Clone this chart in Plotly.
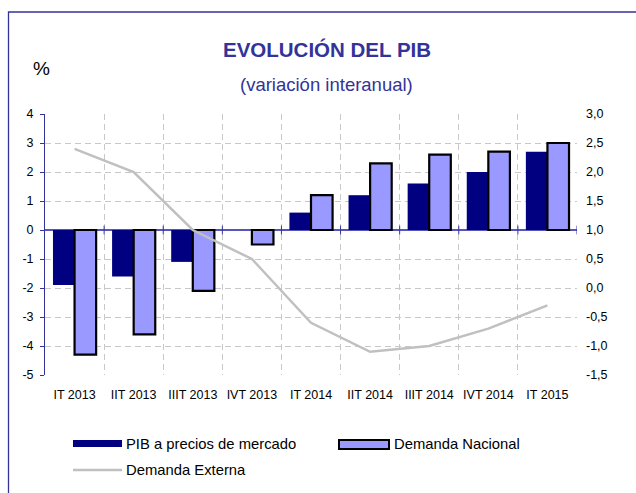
import plotly.graph_objects as go

categories = ["IT 2013", "IIT 2013", "IIIT 2013", "IVT 2013", "IT 2014",
              "IIT 2014", "IIIT 2014", "IVT 2014", "IT 2015"]
pib = [-1.9, -1.6, -1.1, 0.0, 0.6, 1.2, 1.6, 2.0, 2.7]
demanda_nacional = [-4.3, -3.6, -2.1, -0.5, 1.2, 2.3, 2.6, 2.7, 3.0]
demanda_externa = [2.4, 2.0, 1.0, 0.5, -0.6, -1.1, -1.0, -0.7, -0.3]

left_tick_vals = [4, 3, 2, 1, 0, -1, -2, -3, -4, -5]
left_tick_text = ["4", "3", "2", "1", "0", "-1", "-2", "-3", "-4", "-5"]
right_tick_vals = [3.0, 2.5, 2.0, 1.5, 1.0, 0.5, 0.0, -0.5, -1.0, -1.5]
right_tick_text = ["3,0", "2,5", "2,0", "1,5", "1,0", "0,5", "0,0", "-0,5", "-1,0", "-1,5"]

W, H = 636, 493
L, R, T, B = 45, 577, 114, 375
FONT = "Arial, 'Liberation Sans', sans-serif"
BLUE = "#333399"


def px(x):
    return (x - L) / (R - L)


def py(y):
    return (B - y) / (B - T)


fig = go.Figure()
fig.add_trace(go.Bar(x=categories, y=pib, name="PIB a precios de mercado",
                     marker=dict(color="#000080", line=dict(color="#000080", width=0)),
                     showlegend=False))
fig.add_trace(go.Bar(x=categories, y=demanda_nacional, name="Demanda Nacional",
                     marker=dict(color="#9999FF", line=dict(color="#000000", width=2.2)),
                     showlegend=False))
fig.add_trace(go.Scatter(x=categories, y=demanda_externa, name="Demanda Externa",
                         mode="lines", line=dict(color="#C0C0C0", width=2.5),
                         yaxis="y2", showlegend=False))

shapes = []
# frame
shapes.append(dict(type="rect", xref="paper", yref="paper",
                   x0=px(8.5), x1=px(720), y0=py(560), y1=py(12),
                   line=dict(color=BLUE, width=1.3), fillcolor="rgba(0,0,0,0)", layer="below"))
# tick marks on zero line at category boundaries
for i in range(len(categories)):
    shapes.append(dict(type="line", xref="x", yref="y", x0=i + 0.5, x1=i + 0.5,
                       y0=-0.15, y1=0.15, line=dict(color=BLUE, width=1)))

annotations = [
    dict(text="<b>EVOLUCIÓN DEL PIB</b>", x=px(327), y=py(50), xref="paper", yref="paper",
         showarrow=False, xanchor="center", yanchor="middle",
         font=dict(family=FONT, size=20.5, color=BLUE)),
    dict(text="(variación interanual)", x=px(326), y=py(85), xref="paper", yref="paper",
         showarrow=False, xanchor="center", yanchor="middle",
         font=dict(family=FONT, size=18.5, color=BLUE)),
    dict(text="%", x=px(41), y=py(68), xref="paper", yref="paper",
         showarrow=False, xanchor="center", yanchor="middle",
         font=dict(family=FONT, size=19, color="#000000")),
    dict(text="PIB a precios de mercado", x=px(124), y=py(444), xref="paper", yref="paper",
         showarrow=False, xanchor="left", yanchor="middle",
         font=dict(family=FONT, size=14.8, color="#000000")),
    dict(text="Demanda Nacional", x=px(392), y=py(444), xref="paper", yref="paper",
         showarrow=False, xanchor="left", yanchor="middle",
         font=dict(family=FONT, size=14.8, color="#000000")),
    dict(text="Demanda Externa", x=px(124), y=py(470), xref="paper", yref="paper",
         showarrow=False, xanchor="left", yanchor="middle",
         font=dict(family=FONT, size=14.8, color="#000000")),
]
# legend swatches
shapes.append(dict(type="rect", xref="paper", yref="paper", x0=px(73), x1=px(122),
                   y0=py(447), y1=py(440), fillcolor="#000080", line=dict(width=0)))
shapes.append(dict(type="rect", xref="paper", yref="paper", x0=px(339), x1=px(389),
                   y0=py(449), y1=py(440), fillcolor="#9999FF",
                   line=dict(color="#000000", width=2)))
shapes.append(dict(type="line", xref="paper", yref="paper", x0=px(73), x1=px(122),
                   y0=py(470), y1=py(470), line=dict(color="#C0C0C0", width=2.5)))

fig.update_layout(
    width=W, height=H,
    margin=dict(l=L, r=W - R, t=T, b=H - B, pad=0),
    paper_bgcolor="white", plot_bgcolor="white",
    barmode="group", bargap=0.27, bargroupgap=0,
    font=dict(family=FONT, size=12.5, color="#000000"),
    showlegend=False,
    xaxis=dict(type="category", tickson="boundaries", ticks="", showgrid=True,
               gridcolor="#C8C8C8", griddash="6px,4px", gridwidth=1,
               showline=False, zeroline=False, ticklabelstandoff=10,
               tickfont=dict(family=FONT, size=12.5, color="#000000"),
               range=[-0.5, len(categories) - 0.5]),
    yaxis=dict(range=[-5, 4], tickvals=left_tick_vals, ticktext=left_tick_text,
               showgrid=True, gridcolor="#C8C8C8", griddash="6px,4px", gridwidth=1,
               showline=True, linecolor=BLUE, linewidth=1,
               ticks="outside", ticklen=4, tickcolor=BLUE,
               zeroline=True, zerolinecolor="#5555BB", zerolinewidth=1.5,
               ticklabelstandoff=4,
               tickfont=dict(family=FONT, size=12.5, color="#000000")),
    yaxis2=dict(range=[-1.5, 3.0], tickvals=right_tick_vals, ticktext=right_tick_text,
                overlaying="y", side="right", showgrid=False, showline=False,
                zeroline=False, ticks="", ticklabelstandoff=8,
                tickfont=dict(family=FONT, size=12.5, color="#000000")),
    shapes=shapes,
    annotations=annotations,
)

fig.write_html("out.html", config={"displayModeBar": False},
               post_script="document.body.style.margin='0';")
